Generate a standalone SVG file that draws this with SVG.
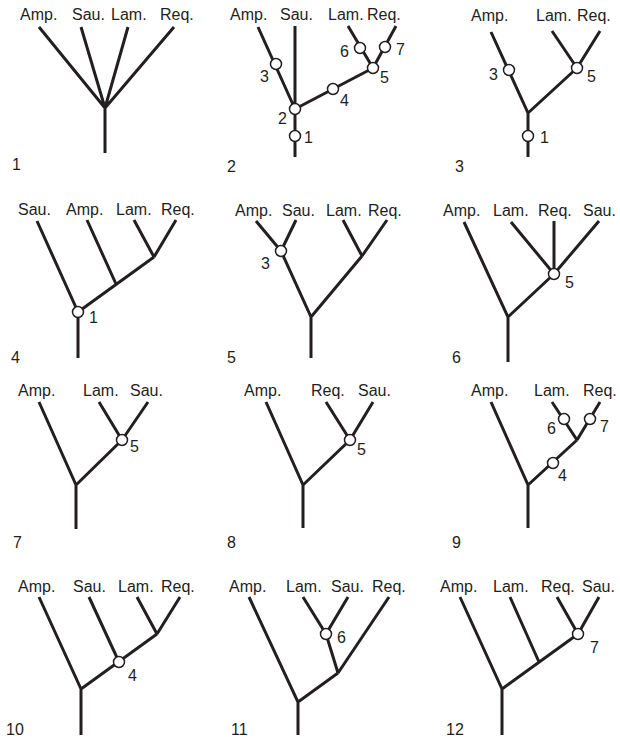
<svg xmlns="http://www.w3.org/2000/svg" width="620" height="739" viewBox="0 0 620 739">
<style>
text{font-family:"Liberation Sans",Arial,sans-serif;font-size:16px;fill:#231f20}
.e{stroke:#231f20;stroke-width:3;fill:none;stroke-linecap:butt}
.n{fill:#fff;stroke:#231f20;stroke-width:1.5}
</style>
<rect width="620" height="739" fill="#fff"/>
<g id="connectors">
<path class="e" d="M39,27L105,108M81,27L105,108M128,27L105,108M174,27L105,108M105,108V153"/>
<path class="e" d="M258,27L295,109M295,26V157M295,109L373,68M348,26L373,68M396,26L373,68"/>
<path class="e" d="M491,32L528,113V157M528,113L577,68M552,31L577,68M600,31L577,68"/>
<path class="e" d="M37,221L78,312V358M78,312L154,257M87,220L116,284M134,220L154,257M176,220L154,257"/>
<path class="e" d="M256,221L281,251M296,220L281,251L311,317V358M311,317L362,256M343,220L362,256M387,220L362,256"/>
<path class="e" d="M464,222L508,317V362M508,317L554,274M511,222L554,274M554,221V274M599,221L554,274"/>
<path class="e" d="M39,402L76,485V529M76,485L122,440M99,402L122,440M148,402L122,440"/>
<path class="e" d="M266,402L303,485V528M303,485L350,440M326,402L350,440M373,402L350,440"/>
<path class="e" d="M491,402L528,485V528M528,485L577,440M552,402L577,440M600,402L577,440"/>
<path class="e" d="M39,597L81,689V735M81,689L157,634M89,597L119,662M137,597L157,634M180,597L157,634"/>
<path class="e" d="M249,597L298,702V735M298,702L338,673M303,597L326,634M348,597L326,634L338,673M389,597L338,673"/>
<path class="e" d="M460,597L502,689V735M502,689L578,634M510,597L539,662M557,597L578,634M599,597L578,634"/>
</g>
<g id="tree1">
<text x="20" y="20">Amp.</text><text x="72" y="20">Sau.</text><text x="111" y="20">Lam.</text><text x="160" y="20">Req.</text>
<text x="12" y="170">1</text>
</g>
<g id="tree2">
<text x="230" y="20">Amp.</text><text x="280" y="20">Sau.</text><text x="328" y="20">Lam.</text><text x="367" y="20">Req.</text>
<g id="t2-n1"><circle class="n" cx="295" cy="136" r="5.5"/><text x="304" y="143">1</text></g>
<g id="t2-n2"><circle class="n" cx="295" cy="109" r="5.5"/><text x="278" y="124">2</text></g>
<g id="t2-n3"><circle class="n" cx="276" cy="64" r="5.5"/><text x="260" y="82">3</text></g>
<g id="t2-n4"><circle class="n" cx="333" cy="89" r="5.5"/><text x="340" y="106">4</text></g>
<g id="t2-n5"><circle class="n" cx="373" cy="68" r="5.5"/><text x="380" y="83">5</text></g>
<g id="t2-n6"><circle class="n" cx="360" cy="48" r="5.5"/><text x="340" y="57">6</text></g>
<g id="t2-n7"><circle class="n" cx="385" cy="47" r="5.5"/><text x="396" y="55">7</text></g>
<text x="227" y="172">2</text>
</g>
<g id="tree3">
<text x="471" y="21">Amp.</text><text x="536" y="21">Lam.</text><text x="577" y="21">Req.</text>
<g id="t3-n3"><circle class="n" cx="509" cy="70" r="5.5"/><text x="489" y="80">3</text></g>
<g id="t3-n5"><circle class="n" cx="577" cy="68" r="5.5"/><text x="587" y="82">5</text></g>
<g id="t3-n1"><circle class="n" cx="528" cy="136" r="5.5"/><text x="540" y="143">1</text></g>
<text x="455" y="172">3</text>
</g>
<g id="tree4">
<text x="18" y="215">Sau.</text><text x="66" y="215">Amp.</text><text x="116" y="215">Lam.</text><text x="161" y="215">Req.</text>
<g id="t4-n1"><circle class="n" cx="78" cy="312" r="5.5"/><text x="89" y="323">1</text></g>
<text x="11" y="363">4</text>
</g>
<g id="tree5">
<text x="235" y="216">Amp.</text><text x="282" y="216">Sau.</text><text x="326" y="216">Lam.</text><text x="368" y="216">Req.</text>
<g id="t5-n3"><circle class="n" cx="281" cy="251" r="5.5"/><text x="261" y="269">3</text></g>
<text x="227" y="363">5</text>
</g>
<g id="tree6">
<text x="443" y="216">Amp.</text><text x="493" y="216">Lam.</text><text x="538" y="216">Req.</text><text x="583" y="216">Sau.</text>
<g id="t6-n5"><circle class="n" cx="554" cy="274" r="5.5"/><text x="565" y="288">5</text></g>
<text x="452" y="363">6</text>
</g>
<g id="tree7">
<text x="18" y="396">Amp.</text><text x="83" y="396">Lam.</text><text x="130" y="396">Sau.</text>
<g id="t7-n5"><circle class="n" cx="122" cy="440" r="5.5"/><text x="130" y="452">5</text></g>
<text x="13" y="548">7</text>
</g>
<g id="tree8">
<text x="244" y="396">Amp.</text><text x="311" y="396">Req.</text><text x="358" y="396">Sau.</text>
<g id="t8-n5"><circle class="n" cx="350" cy="440" r="5.5"/><text x="357" y="455">5</text></g>
<text x="227" y="548">8</text>
</g>
<g id="tree9">
<text x="471" y="396">Amp.</text><text x="534" y="396">Lam.</text><text x="583" y="396">Req.</text>
<g id="t9-n4"><circle class="n" cx="553" cy="463" r="5.5"/><text x="558" y="481">4</text></g>
<g id="t9-n6"><circle class="n" cx="564" cy="419" r="5.5"/><text x="547" y="434">6</text></g>
<g id="t9-n7"><circle class="n" cx="590" cy="419" r="5.5"/><text x="600" y="432">7</text></g>
<text x="452" y="548">9</text>
</g>
<g id="tree10">
<text x="18" y="592">Amp.</text><text x="73" y="592">Sau.</text><text x="118" y="592">Lam.</text><text x="161" y="592">Req.</text>
<g id="t10-n4"><circle class="n" cx="119" cy="662" r="5.5"/><text x="128" y="681">4</text></g>
<text x="6" y="735">10</text>
</g>
<g id="tree11">
<text x="229" y="592">Amp.</text><text x="286" y="592">Lam.</text><text x="331" y="592">Sau.</text><text x="372" y="592">Req.</text>
<g id="t11-n6"><circle class="n" cx="326" cy="634" r="5.5"/><text x="337" y="643">6</text></g>
<text x="231" y="735">11</text>
</g>
<g id="tree12">
<text x="440" y="592">Amp.</text><text x="493" y="592">Lam.</text><text x="541" y="592">Req.</text><text x="582" y="592">Sau.</text>
<g id="t12-n7"><circle class="n" cx="578" cy="634" r="5.5"/><text x="590" y="653">7</text></g>
<text x="446" y="735">12</text>
</g>
</svg>
